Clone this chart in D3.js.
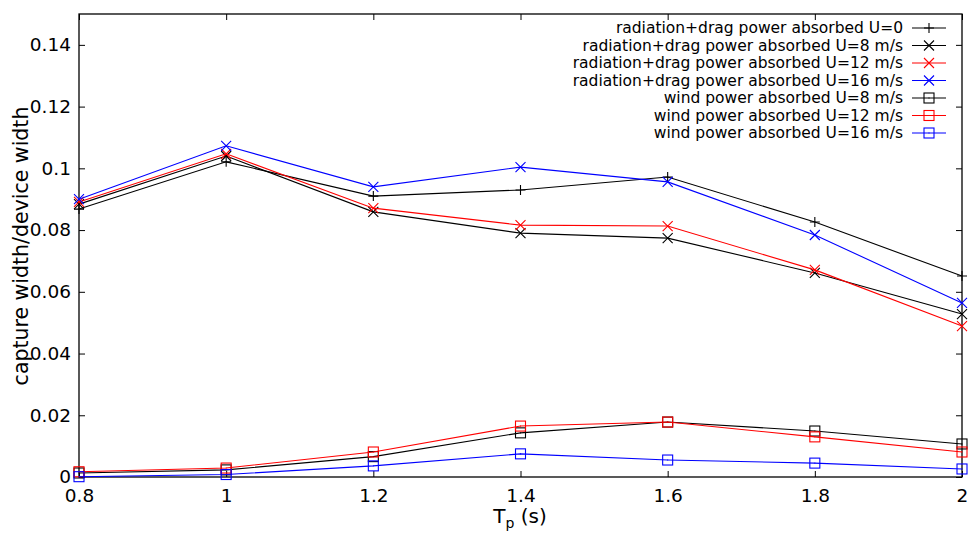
<!DOCTYPE html>
<html><head><meta charset="utf-8">
<script src="https://cdn.jsdelivr.net/npm/d3@7"></script>
<style>body{margin:0;background:#fff}svg{display:block}text{font-family:"DejaVu Sans",Verdana,sans-serif}</style>
</head><body>
<svg id="c" width="971" height="537"></svg>
<script>
const tp = [0.8, 1.0, 1.2, 1.4, 1.6, 1.8, 2.0];
const radU0  = [0.0868, 0.1021, 0.0910, 0.0930, 0.0972, 0.0826, 0.0651];
const radU8  = [0.0884, 0.1040, 0.0859, 0.0790, 0.0774, 0.0661, 0.0528];
const radU12 = [0.0891, 0.1047, 0.0871, 0.0816, 0.0813, 0.0671, 0.0489];
const radU16 = [0.0900, 0.1073, 0.0940, 0.1004, 0.0956, 0.0784, 0.0564];
const windU8  = [0.0013, 0.0023, 0.0066, 0.0143, 0.0178, 0.0149, 0.0107];
const windU12 = [0.0017, 0.0029, 0.0081, 0.0165, 0.0178, 0.0130, 0.0081];
const windU16 = [0.0001, 0.0008, 0.0036, 0.0075, 0.0055, 0.0045, 0.0026];
const xTicks = [0.8, 1, 1.2, 1.4, 1.6, 1.8, 2];
const yTicks = [0, 0.02, 0.04, 0.06, 0.08, 0.1, 0.12, 0.14];
const labels = ["radiation+drag power absorbed U=0","radiation+drag power absorbed U=8 m/s","radiation+drag power absorbed U=12 m/s","radiation+drag power absorbed U=16 m/s","wind power absorbed U=8 m/s","wind power absorbed U=12 m/s","wind power absorbed U=16 m/s"];
const series = [
 {name:labels[0], vals:radU0, color:"#000000", mark:"plus"},
 {name:labels[1], vals:radU8, color:"#000000", mark:"cross"},
 {name:labels[2], vals:radU12, color:"#ff0000", mark:"cross"},
 {name:labels[3], vals:radU16, color:"#0000ff", mark:"cross"},
 {name:labels[4], vals:windU8, color:"#000000", mark:"square"},
 {name:labels[5], vals:windU12, color:"#ff0000", mark:"square"},
 {name:labels[6], vals:windU16, color:"#0000ff", mark:"square"}
];
const L=79,R=962,T=14,B=477;
const svg=d3.select("#c");
const x=d3.scaleLinear().domain([0.8,2]).range([L,R]);
const y=d3.scaleLinear().domain([0,0.15]).range([B,T]);
const tl=6;
const fmt=d=>d3.format("")(+d.toFixed(2));
const gB=svg.append("g").attr("transform",`translate(0,${B})`).call(d3.axisBottom(x).tickValues(xTicks).tickSize(-tl).tickPadding(12).tickFormat(fmt));
const gT=svg.append("g").attr("transform",`translate(0,${T})`).call(d3.axisTop(x).tickValues(xTicks).tickSize(-tl).tickFormat(""));
const gL=svg.append("g").attr("transform",`translate(${L},0)`).call(d3.axisLeft(y).tickValues(yTicks).tickSize(-tl).tickPadding(8).tickFormat(fmt));
const gR=svg.append("g").attr("transform",`translate(${R},0)`).call(d3.axisRight(y).tickValues(yTicks).tickSize(-tl).tickFormat(""));
[gB,gT,gL,gR].forEach(g=>{g.select(".domain").remove();g.selectAll("line").attr("stroke","#000");g.selectAll("text").attr("font-family","DejaVu Sans").attr("font-size",18.5).attr("fill","#000");});
svg.append("rect").attr("x",L).attr("y",T).attr("width",R-L).attr("height",B-T).attr("fill","none").attr("stroke","#000").attr("stroke-width",1.3);
const xl=svg.append("text").attr("x",520).attr("y",523).attr("text-anchor","middle").attr("font-size",20);
xl.append("tspan").text("T");
xl.append("tspan").attr("font-size",14).attr("dy",5).text("p");
xl.append("tspan").attr("dy",-5).text(" (s)");
svg.append("text").attr("transform","translate(28,246) rotate(-90)").attr("text-anchor","middle").attr("font-size",20.5).text("capture width/device width");
function marker(g,mark,color,cx,cy){
  const s=5;
  if(mark==="plus"){
    g.append("path").attr("d",`M${cx-s},${cy}H${cx+s}M${cx},${cy-s}V${cy+s}`).attr("stroke",color).attr("stroke-width",1.1).attr("fill","none");
  } else if(mark==="cross"){
    g.append("path").attr("d",`M${cx-s},${cy-s}L${cx+s},${cy+s}M${cx-s},${cy+s}L${cx+s},${cy-s}`).attr("stroke",color).attr("stroke-width",1.1).attr("fill","none");
  } else {
    g.append("rect").attr("x",cx-s).attr("y",cy-s).attr("width",2*s).attr("height",2*s).attr("stroke",color).attr("stroke-width",1.1).attr("fill","none");
    g.append("rect").attr("x",cx-0.5).attr("y",cy-0.5).attr("width",1).attr("height",1).attr("fill",color);
  }
}
const line=d3.line().x((d,i)=>x(tp[i])).y(d=>y(d));
const gp=svg.append("g");
series.forEach(s=>{
  gp.append("path").attr("d",line(s.vals)).attr("fill","none").attr("stroke",s.color).attr("stroke-width",1.1);
  s.vals.forEach((v,i)=>marker(gp,s.mark,s.color,x(tp[i]),y(v)));
});
const lg=svg.append("g");
series.forEach((s,i)=>{
  const yy=28+i*17.5;
  lg.append("text").attr("x",903).attr("y",yy).attr("dy","0.35em").attr("text-anchor","end").attr("font-size",15.5).text(s.name);
  lg.append("line").attr("x1",912).attr("x2",946).attr("y1",yy).attr("y2",yy).attr("stroke",s.color).attr("stroke-width",1.1);
  marker(lg,s.mark,s.color,929,yy);
});
</script>
</body></html>
